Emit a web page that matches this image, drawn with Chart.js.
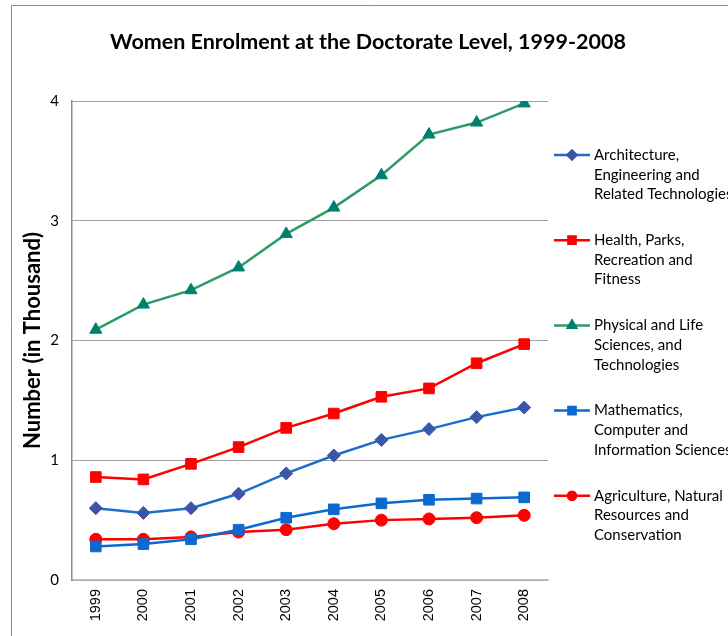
<!DOCTYPE html>
<html>
<head>
<meta charset="utf-8">
<script src="https://cdn.jsdelivr.net/npm/chart.js@4/dist/chart.umd.min.js"></script>
<style>
    html, body { margin: 0; padding: 0; background: #fff; }
    #wrap { width: 728px; height: 636px; position: relative; }
</style>
</head>
<body>
<div id="wrap"><canvas id="chart" width="728" height="636"></canvas></div>
<script>
const years = ['1999', '2000', '2001', '2002', '2003', '2004', '2005', '2006', '2007', '2008'];
const architecture = [0.60, 0.56, 0.60, 0.72, 0.89, 1.04, 1.17, 1.26, 1.36, 1.44];
const health = [0.86, 0.84, 0.97, 1.11, 1.27, 1.39, 1.53, 1.60, 1.81, 1.97];
const physical = [2.09, 2.30, 2.42, 2.61, 2.89, 3.11, 3.38, 3.72, 3.82, 3.98];
const mathematics = [0.28, 0.30, 0.34, 0.42, 0.52, 0.59, 0.64, 0.67, 0.68, 0.69];
const agriculture = [0.34, 0.34, 0.36, 0.40, 0.42, 0.47, 0.50, 0.51, 0.52, 0.54];
const yTicks = [0, 1, 2, 3, 4];

const seriesNames = [
    ['Architecture,', 'Engineering and', 'Related Technologies'],
    ['Health, Parks,', 'Recreation and', 'Fitness'],
    ['Physical and Life', 'Sciences, and', 'Technologies'],
    ['Mathematics,', 'Computer and', 'Information Sciences'],
    ['Agriculture, Natural', 'Resources and', 'Conservation'],
];
const chartTitle = 'Women Enrolment at the Doctorate Level, 1999-2008';

const FONT = "Lato, 'Open Sans', sans-serif";

function makeSeries(name, data, lineColor, markerColor, style, radius) {
    return {
        label: name.join(' '),
        data,
        borderColor: lineColor,
        backgroundColor: markerColor,
        pointBackgroundColor: markerColor,
        pointBorderColor: markerColor,
        pointBorderWidth: 1,
        pointStyle: style,
        pointRadius: radius,
        pointHoverRadius: radius,
        borderWidth: 2.5,
        tension: 0,
    };
}

const datasets = [
    makeSeries(seriesNames[0], architecture, '#1A6FCC', '#3A56A8', 'rectRot', 6.5),
    makeSeries(seriesNames[1], health, '#FF0000', '#FF0000', 'rect', 7.5),
    makeSeries(seriesNames[2], physical, '#2E9A66', '#00806E', 'triangle', 7),
    makeSeries(seriesNames[3], mathematics, '#0A6AD0', '#0A6AD0', 'rect', 7.5),
    makeSeries(seriesNames[4], agriculture, '#FF0000', '#FF0000', 'circle', 6),
];

// frame, title and the right-hand legend
const decorPlugin = {
    id: 'decor',
    beforeDraw(chart) {
        const ctx = chart.ctx;
        ctx.save();
        ctx.fillStyle = '#fff';
        ctx.fillRect(0, 0, chart.width, chart.height);
        ctx.strokeStyle = '#8C8C8C';
        ctx.lineWidth = 1;
        ctx.beginPath();
        ctx.moveTo(11.5, chart.height);
        ctx.lineTo(11.5, 5.5);
        ctx.lineTo(chart.width, 5.5);
        ctx.stroke();
        ctx.restore();
    },
    afterDraw(chart) {
        const ctx = chart.ctx;
        ctx.save();
        ctx.fillStyle = '#000';
        ctx.font = `bold 21.5px ${FONT}`;
        ctx.textAlign = 'center';
        ctx.textBaseline = 'middle';
        ctx.fillText(chartTitle, 368, 42);

        ctx.font = `15px ${FONT}`;
        ctx.textAlign = 'left';
        chart.data.datasets.forEach((ds, i) => {
            const y = 155 + i * 85.2;
            ctx.strokeStyle = ds.borderColor;
            ctx.lineWidth = 2.5;
            ctx.beginPath();
            ctx.moveTo(554, y);
            ctx.lineTo(590, y);
            ctx.stroke();
            ctx.fillStyle = ds.pointBackgroundColor;
            ctx.strokeStyle = ds.pointBorderColor;
            Chart.helpers.drawPoint(ctx, {
                pointStyle: ds.pointStyle,
                rotation: 0,
                borderWidth: 1,
                radius: ds.pointRadius * 0.68,
            }, 572, y);
            ctx.fillStyle = '#000';
            seriesNames[i].forEach((line, j) => {
                ctx.fillText(line, 594, y + j * 19.7);
            });
        });
        ctx.restore();
    },
};

new Chart(document.getElementById('chart'), {
    type: 'line',
    data: { labels: years, datasets },
    plugins: [decorPlugin],
    options: {
        responsive: false,
        animation: false,
        events: [],
        layout: { padding: { top: 101, right: 180, left: 0, bottom: 0 } },
        plugins: {
            legend: { display: false },
            title: { display: false },
            tooltip: { enabled: false },
        },
        scales: {
            x: {
                offset: true,
                afterFit(scale) { scale.height = 56; },
                grid: { display: false, drawTicks: false },
                border: { display: true, color: '#BDBDBD', width: 1.5 },
                ticks: {
                    minRotation: 90,
                    maxRotation: 90,
                    padding: 9,
                    color: '#000',
                    font: { family: "'Liberation Sans', Arial, sans-serif", size: 14.5 },
                },
            },
            y: {
                min: 0,
                max: 4,
                afterFit(scale) { scale.width = 72; },
                afterBuildTicks(scale) {
                    scale.ticks = yTicks.map((v) => ({ value: v }));
                },
                grid: { color: '#A0A0A0', drawTicks: false, lineWidth: 1 },
                border: { display: true, color: '#8C8C8C', width: 1.5 },
                ticks: {
                    padding: 13,
                    color: '#000',
                    font: { family: FONT, size: 15 },
                },
                title: {
                    display: true,
                    text: 'Number (in Thousand)',
                    color: '#000',
                    font: { family: FONT, size: 22, weight: 'bold' },
                    padding: { top: 20, bottom: 0 },
                },
            },
        },
    },
});
</script>
</body>
</html>
